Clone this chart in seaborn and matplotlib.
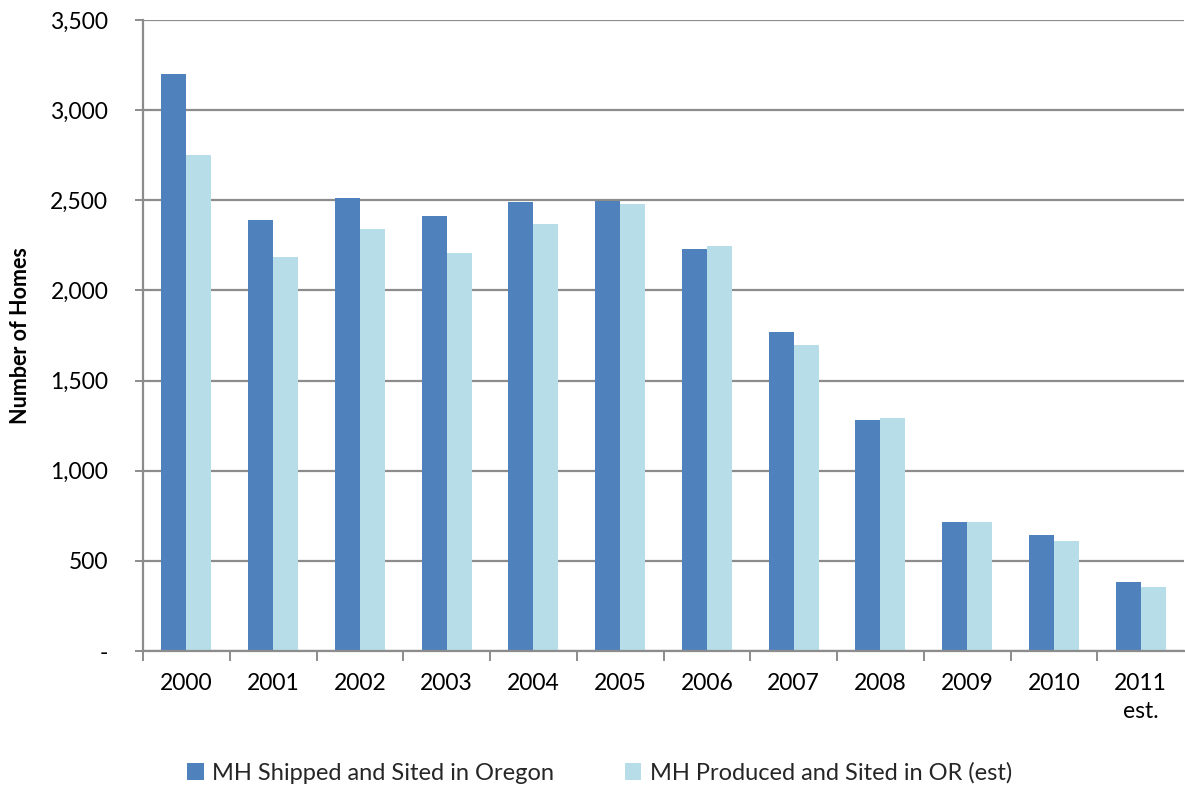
import matplotlib
matplotlib.use("Agg")
import matplotlib.pyplot as plt
from matplotlib.ticker import FuncFormatter, FixedLocator
import seaborn as sns
import pandas as pd

# Manufactured-home counts by year
years = ["2000", "2001", "2002", "2003", "2004", "2005", "2006", "2007",
         "2008", "2009", "2010", "2011\nest."]
shipped_sited = [3200, 2390, 2515, 2415, 2490, 2495, 2230, 1770, 1280, 715, 645, 380]
produced_sited = [2750, 2185, 2340, 2210, 2370, 2480, 2245, 1700, 1290, 715, 610, 355]
series_names = ["MH Shipped and Sited in Oregon", "MH Produced and Sited in OR (est)"]
y_ticks = [0, 500, 1000, 1500, 2000, 2500, 3000, 3500]

df = pd.DataFrame({
    "year": years * 2,
    "homes": shipped_sited + produced_sited,
    "series": [series_names[0]] * len(years) + [series_names[1]] * len(years),
})

sns.set_theme(style="white")
plt.rcParams["font.family"] = ["Lato", "DejaVu Sans"]

fig = plt.figure(figsize=(11.85, 7.87), dpi=100)
ax = fig.add_axes([0.1207, 0.1728, 0.8785, 0.8018])

grid_color = "#8c8c8c"
sns.barplot(data=df, x="year", y="homes", hue="series",
            palette=["#4F81BD", "#B7DEE8"], width=0.575, gap=0,
            linewidth=0, saturation=1, ax=ax, legend=True)

ax.set_xlim(-0.5, len(years) - 0.5)
ax.set_ylim(0, 3500)
ax.set_yticks(y_ticks)
ax.yaxis.set_major_formatter(FuncFormatter(lambda v, p: "-" if v == 0 else f"{int(v):,}"))
ax.yaxis.grid(True, color=grid_color, linewidth=1.6)
ax.set_axisbelow(True)

for side in ["top", "right"]:
    ax.spines[side].set_visible(False)
for side in ["left", "bottom"]:
    ax.spines[side].set_color(grid_color)
    ax.spines[side].set_linewidth(1.6)

ax.tick_params(axis="y", which="major", direction="out", length=6, width=1.4,
               color=grid_color, left=True, pad=19, labelsize=16.5, labelcolor="#000000")
ax.tick_params(axis="x", which="major", length=0, pad=16, labelsize=16.5, labelcolor="#000000")
ax.xaxis.set_minor_locator(FixedLocator([i - 0.5 for i in range(len(years))]))
ax.tick_params(axis="x", which="minor", direction="out", length=7, width=1.4,
               color=grid_color, bottom=True)
for lbl in ax.get_xticklabels():
    lbl.set_linespacing(1.4)
    lbl.set_verticalalignment("top")

ax.set_xlabel("")
ax.set_ylabel("Number of Homes", fontsize=15.5, fontweight="bold", color="#000000")
ax.yaxis.set_label_coords(-0.108, 0.5)

handles, labels = ax.get_legend_handles_labels()
ax.get_legend().remove()
fig.legend(handles, labels, loc="center", bbox_to_anchor=(0.506, 0.018), ncol=2,
           frameon=False, fontsize=17, handlelength=0.7, handleheight=0.7,
           handletextpad=0.35, columnspacing=3.0)

fig.savefig("out.png", dpi=100)
